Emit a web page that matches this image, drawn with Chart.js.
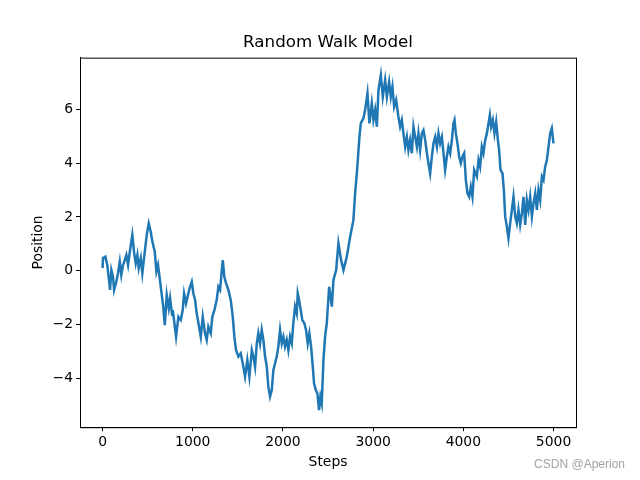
<!DOCTYPE html>
<html>
<head>
<meta charset="utf-8">
<script src="https://cdn.jsdelivr.net/npm/chart.js@4/dist/chart.umd.min.js"></script>
<style>
  body { margin: 0; background: #fff; }
  #caja { position: relative; width: 640px; height: 480px; }
  #marca { position: absolute; right: 15px; top: 457px; font: 12px 'Liberation Sans', Arial, sans-serif; color: #a3a3a3; }
</style>
</head>
<body>
<div id="caja">
  <canvas id="myChart" width="640" height="480"></canvas>
  <div id="marca">CSDN @Aperion</div>
</div>
<script>
/* Datos (paso, posicion) */
const pasos = [
  0, 5, 31, 53, 69, 83, 98, 116, 128, 153, 172, 191, 208, 227, 246, 264, 283, 302, 319, 330,
  349, 368, 386, 401, 424, 441, 468, 490, 512, 534, 552, 579, 597, 615, 634, 652, 671, 690, 712, 734,
  749, 771, 779, 815, 841, 867, 889, 904, 926, 951, 970, 989, 1007, 1026, 1044, 1070, 1089, 1111, 1136, 1155,
  1173, 1200, 1217, 1240, 1266, 1284, 1303, 1322, 1333, 1350, 1369, 1395, 1421, 1444, 1461, 1480, 1506, 1532, 1554, 1580,
  1605, 1628, 1655, 1672, 1691, 1710, 1727, 1746, 1765, 1783, 1802, 1821, 1838, 1857, 1876, 1894, 1913, 1931, 1949, 1968,
  1987, 2005, 2023, 2042, 2060, 2079, 2098, 2115, 2134, 2153, 2164, 2179, 2197, 2215, 2237, 2256, 2275, 2293, 2312, 2331,
  2345, 2364, 2382, 2400, 2415, 2430, 2449, 2467, 2486, 2512, 2542, 2560, 2590, 2615, 2645, 2671, 2708, 2745, 2781, 2800,
  2819, 2830, 2848, 2863, 2892, 2911, 2937, 2959, 2985, 3003, 3022, 3041, 3059, 3085, 3107, 3133, 3152, 3177, 3196, 3214,
  3233, 3255, 3280, 3299, 3318, 3336, 3355, 3374, 3391, 3410, 3429, 3447, 3466, 3485, 3502, 3521, 3540, 3558, 3577, 3596,
  3613, 3632, 3651, 3669, 3688, 3707, 3724, 3743, 3762, 3780, 3798, 3817, 3835, 3854, 3873, 3890, 3902, 3917, 3935, 3954,
  3972, 3990, 4009, 4028, 4046, 4065, 4083, 4101, 4120, 4150, 4168, 4186, 4205, 4223, 4242, 4261, 4279, 4294, 4308, 4327,
  4345, 4364, 4383, 4397, 4412, 4434, 4449, 4464, 4483, 4500, 4519, 4538, 4556, 4575, 4593, 4611, 4630, 4649, 4667, 4686,
  4704, 4722, 4741, 4760, 4778, 4797, 4815, 4833, 4852, 4871, 4889, 4907, 4926, 4944, 4963, 4981, 4999
];
const posiciones = [
  0.1, 0.47, 0.52, 0.2, -0.28, -0.72, 0.02, -0.23, -0.72, -0.41, -0.09, 0.33, -0.16, 0.21, 0.39, 0.58, 0.21, 0.7, 1.08, 1.33,
  0.7, 0.27, 0.58, 0.09, 0.46, -0.1, 0.7, 1.33, 1.76, 1.45, 1.08, 0.7, -0.04, 0.21, -0.29, -0.79, -1.28, -2.03, -0.91, -1.4,
  -1.03, -1.65, -1.47, -2.46, -1.72, -1.84, -1.47, -0.85, -1.22, -0.85, -0.6, -0.41, -0.85, -1.09, -1.59, -2.09, -2.46, -1.72, -2.33, -2.58,
  -2.09, -2.33, -1.72, -1.47, -1.09, -0.6, -0.72, 0.02, 0.39, -0.23, -0.47, -0.72, -1.09, -1.72, -2.46, -2.96, -3.2, -3.08, -3.45, -3.95,
  -3.33, -3.95, -2.96, -3.2, -3.58, -2.71, -2.33, -2.71, -2.21, -2.58, -3.2, -3.58, -4.32, -4.69, -4.45, -3.7, -3.45, -3.2, -2.83, -2.21,
  -2.71, -2.46, -2.83, -2.58, -2.96, -2.46, -2.71, -1.96, -1.34, -1.59, -0.85, -1.09, -1.47, -1.84, -1.96, -2.21, -2.71, -2.33, -2.83, -3.58,
  -4.2, -4.45, -4.57, -5.19, -4.7, -4.95, -3.33, -2.46, -1.96, -0.6, -1.34, -0.35, 0.02, 1.02, 0.39, 0.02, 0.52, 1.26, 1.88, 2.88,
  3.62, 4.12, 4.98, 5.48, 5.67, 5.98, 6.6, 5.48, 6.23, 5.61, 5.98, 5.36, 6.72, 7.28, 6.47, 7.1, 6.47, 7.03, 6.47, 6.85,
  6.1, 6.35, 5.73, 5.36, 5.61, 5.11, 4.61, 4.98, 4.49, 4.86, 4.37, 5.36, 4.98, 4.61, 5.11, 4.49, 5.11, 5.23, 4.86, 4.37,
  4.0, 3.62, 4.24, 4.74, 4.98, 4.61, 5.11, 4.74, 4.98, 4.37, 3.75, 4.24, 4.61, 4.37, 4.86, 5.48, 5.61, 5.11, 4.74, 4.24,
  4.0, 4.24, 4.37, 3.37, 2.88, 2.75, 3.12, 2.75, 3.75, 3.5, 4.12, 3.87, 4.61, 4.37, 4.86, 5.11, 5.48, 5.79, 5.36, 5.61,
  5.11, 5.54, 4.86, 4.49, 3.75, 3.62, 3.0, 2.01, 1.63, 1.2, 1.76, 2.26, 2.75, 2.01, 1.76, 2.26, 1.7, 2.13, 2.75, 1.7,
  2.63, 2.26, 2.75, 2.01, 2.51, 2.88, 2.26, 3.0, 2.63, 3.5, 3.37, 3.87, 4.12, 4.61, 5.11, 5.3, 4.74
];
const ticksX = [0, 1000, 2000, 3000, 4000, 5000];
const ticksY = [-4, -2, 0, 2, 4, 6];

const fuente = { family: 'DejaVu Sans', size: 13.9, weight: 'normal' };

function etiqueta(v) {
  return v < 0 ? '\u2212' + Math.abs(v) : String(v);
}

// marco completo de los ejes (arriba y derecha tambien)
const marco = {
  id: 'marco',
  afterDraw(chart) {
    const { ctx, chartArea: a } = chart;
    ctx.save();
    ctx.strokeStyle = '#000';
    ctx.lineWidth = 1;
    ctx.strokeRect(a.left + 0.5, a.top + 0.5, a.right - a.left, a.bottom - a.top);
    ctx.restore();
  }
};

const ctx = document.getElementById('myChart').getContext('2d');

let chart = new Chart(ctx, {
  type: 'line',
  data: {
    datasets: [{
      data: pasos.map((p, i) => ({ x: p, y: posiciones[i] })),
      borderColor: '#1f77b4',
      borderWidth: 2.5,
      pointRadius: 0,
      tension: 0,
      fill: false
    }]
  },
  options: {
    responsive: false,
    animation: false,
    layout: { padding: { left: 0, right: 64, top: 0, bottom: 0 } },
    plugins: {
      legend: { display: false },
      tooltip: { enabled: false },
      title: {
        display: true,
        fullSize: false,
        text: 'Random Walk Model',
        color: '#000',
        font: { family: 'DejaVu Sans', size: 16.7, weight: 'normal' },
        padding: { top: 33, bottom: 4.6 }
      }
    },
    scales: {
      x: {
        type: 'linear',
        min: -250,
        max: 5249,
        afterBuildTicks: s => { s.ticks = ticksX.map(v => ({ value: v })); },
        afterFit: s => { s.height = 52.8; },
        grid: { drawOnChartArea: false, drawTicks: true, tickLength: 4, color: '#000' },
        border: { color: '#000' },
        ticks: { color: '#000', font: fuente, padding: 3, maxRotation: 0, callback: v => etiqueta(v) },
        title: { display: true, text: 'Steps', color: '#000', font: fuente, padding: { top: 0, bottom: 9.7 } }
      },
      y: {
        type: 'linear',
        min: -5.83,
        max: 7.93,
        afterBuildTicks: s => { s.ticks = ticksY.map(v => ({ value: v })); },
        afterFit: s => { s.width = 80; },
        grid: { drawOnChartArea: false, drawTicks: true, tickLength: 4, color: '#000' },
        border: { color: '#000' },
        ticks: { color: '#000', font: fuente, padding: 3, callback: v => etiqueta(v) },
        title: { display: true, text: 'Position', color: '#000', font: fuente, padding: { top: 30, bottom: 0 } }
      }
    }
  },
  plugins: [marco]
});
</script>
</body>
</html>
